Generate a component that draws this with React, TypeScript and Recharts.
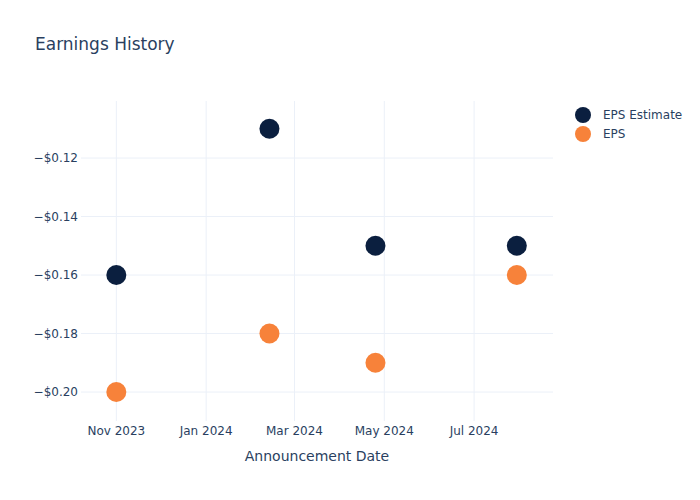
import { ScatterChart, Scatter, XAxis, YAxis, ReferenceLine } from 'recharts'

const announceDates = ['2023-11-01', '2024-02-13', '2024-04-25', '2024-07-30']
const epsEstimate = [-0.16, -0.11, -0.15, -0.15]
const epsActual = [-0.2, -0.18, -0.19, -0.16]

const xTickDates = ['2023-11-01', '2024-01-01', '2024-03-01', '2024-05-01', '2024-07-01']
const yTicks = [-0.2, -0.18, -0.16, -0.14, -0.12]

const MONTHS = ['Jan', 'Feb', 'Mar', 'Apr', 'May', 'Jun', 'Jul', 'Aug', 'Sep', 'Oct', 'Nov', 'Dec']
const ts = (d: string) => Date.parse(d + 'T00:00:00Z')

const NAVY = '#0b1f3f'
const ORANGE = '#f7823a'
const TEXT = '#2a3f5f'
const GRID = '#ebf0f8'
const FONT = '"DejaVu Sans", Verdana, sans-serif'

const estimateData = announceDates.map((d, i) => ({ t: ts(d), v: epsEstimate[i] }))
const actualData = announceDates.map((d, i) => ({ t: ts(d), v: epsActual[i] }))

// plotly-style auto range padding around the data
const xDomain: [number, number] = [ts('2023-10-08'), ts('2024-08-23') + 14 * 3600 * 1000]
const yDomain: [number, number] = [-0.2099, -0.1005]

const fmtDate = (v: number) => {
  const d = new Date(v)
  return `${MONTHS[d.getUTCMonth()]} ${d.getUTCFullYear()}`
}
const fmtMoney = (v: number) => (v < 0 ? '\u2212' : '') + '$' + Math.abs(v).toFixed(2)

const dot = (color: string) => (props: any) => {
  const { cx, cy } = props
  if (cx == null || cy == null) return <g />
  return <circle cx={cx} cy={cy} r={10} fill={color} />
}

function LegendBox() {
  const items = [
    { name: 'EPS Estimate', color: NAVY },
    { name: 'EPS', color: ORANGE },
  ]
  return (
    <div style={{ position: 'absolute', left: 575, top: 105, fontFamily: FONT, fontSize: 12, color: TEXT }}>
      {items.map((it) => (
        <div key={it.name} style={{ display: 'flex', alignItems: 'center', height: 19 }}>
          <svg width={16} height={16} style={{ marginRight: 12 }}>
            <circle cx={8} cy={8} r={8} fill={it.color} />
          </svg>
          <span>{it.name}</span>
        </div>
      ))}
    </div>
  )
}

export default function App() {
  return (
    <div style={{ position: 'absolute', left: 0, top: 0, width: 700, height: 500, background: '#fff' }}>
      <div
        style={{
          position: 'absolute',
          left: 35,
          top: 34,
          fontFamily: FONT,
          fontSize: 17,
          color: TEXT,
        }}
      >
        Earnings History
      </div>
      <LegendBox />
      <ScatterChart width={700} height={500} margin={{ top: 101, right: 147, bottom: 0, left: 0 }}>
        <XAxis
          type="number"
          dataKey="t"
          domain={xDomain}
          ticks={xTickDates.map(ts)}
          tickFormatter={fmtDate}
          allowDataOverflow
          axisLine={false}
          tickLine={false}
          tickSize={0}
          tickMargin={5}
          height={79}
          tick={{ fill: TEXT, fontSize: 12, fontFamily: FONT }}
          label={{
            value: 'Announcement Date',
            position: 'insideBottom',
            offset: 39,
            fill: TEXT,
            fontSize: 14,
            fontFamily: FONT,
          }}
        />
        <YAxis
          type="number"
          dataKey="v"
          domain={yDomain}
          ticks={yTicks}
          tickFormatter={fmtMoney}
          allowDataOverflow
          axisLine={false}
          tickLine={false}
          tickSize={0}
          tickMargin={3}
          width={81}
          tick={{ fill: TEXT, fontSize: 12, fontFamily: FONT }}
        />
        {xTickDates.map((d) => (
          <ReferenceLine key={d} x={ts(d)} stroke={GRID} strokeWidth={1} />
        ))}
        {yTicks.map((v) => (
          <ReferenceLine key={v} y={v} stroke={GRID} strokeWidth={1} />
        ))}
        <Scatter name="EPS Estimate" data={estimateData} fill={NAVY} shape={dot(NAVY)} isAnimationActive={false} />
        <Scatter name="EPS" data={actualData} fill={ORANGE} shape={dot(ORANGE)} isAnimationActive={false} />
      </ScatterChart>
    </div>
  )
}
